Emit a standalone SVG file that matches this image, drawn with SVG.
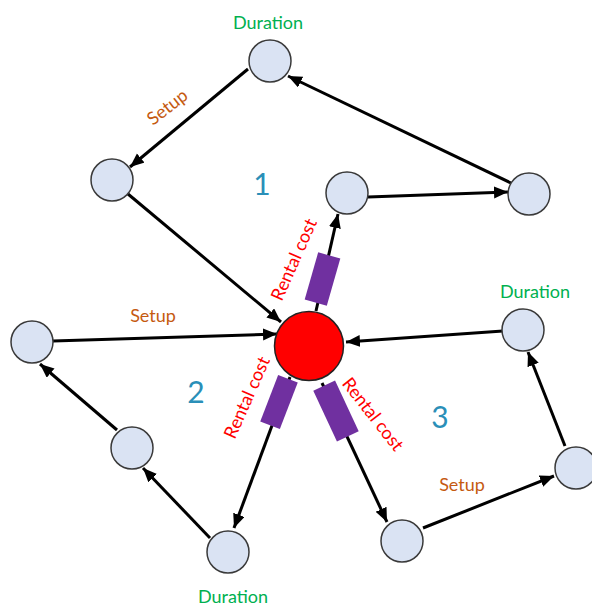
<svg xmlns="http://www.w3.org/2000/svg" width="592" height="608" viewBox="0 0 592 608">
<style>
.node{fill:#DAE3F3;stroke:#3a3a3a;stroke-width:1.5}
.hub{fill:#FF0000;stroke:#222;stroke-width:1.5}
.edge{stroke:#000;stroke-width:3;fill:none;marker-end:url(#ah)}
.cost{fill:#7030A0}
text{font-family:Lato,"Open Sans","Liberation Sans",sans-serif;font-size:18px}
.dur{fill:#00B050;text-anchor:middle}
.set{fill:#C55A11;text-anchor:middle}
.rc{fill:#FF0000;text-anchor:middle}
.num{fill:#2A8FB8;font-size:30px;text-anchor:middle}
</style>
<defs>
<marker id="ah" markerUnits="userSpaceOnUse" markerWidth="16" markerHeight="14" refX="14" refY="6" orient="auto">
<path d="M0,0 L14,6 L0,12 Z" fill="#000"/>
</marker>
</defs>
<g id="connectors">
<line class="edge" x1="248" y1="69" x2="130" y2="167"/>
<line class="edge" x1="511" y1="183" x2="288" y2="76"/>
<line class="edge" x1="368" y1="197" x2="508" y2="192"/>
<line class="edge" x1="128" y1="194" x2="281" y2="322"/>
<line class="edge" x1="316" y1="311" x2="338" y2="214"/>
<line class="edge" x1="53" y1="341" x2="277" y2="334"/>
<line class="edge" x1="117" y1="430" x2="40" y2="364"/>
<line class="edge" x1="210" y1="538" x2="143" y2="468"/>
<line class="edge" x1="290" y1="377" x2="234" y2="528"/>
<line class="edge" x1="322" y1="383" x2="387" y2="522"/>
<line class="edge" x1="423" y1="528" x2="554" y2="476"/>
<line class="edge" x1="565" y1="446" x2="528" y2="352"/>
<line class="edge" x1="503" y1="331" x2="346" y2="342"/>
<rect class="cost" x="-11.5" y="-24.5" width="23" height="49" transform="translate(322.5,279) rotate(16)"/>
<rect class="cost" x="-10.5" y="-25" width="21" height="50" transform="translate(279,402) rotate(21)"/>
<rect class="cost" x="-12" y="-28" width="24" height="56" transform="translate(336,411) rotate(-25)"/>
</g>
<g id="hub"><circle class="hub" cx="309" cy="346" r="34.5"/></g>
<g id="nA"><circle class="node" cx="270" cy="61" r="21"/></g>
<g id="nB"><circle class="node" cx="112" cy="180" r="21"/></g>
<g id="nC"><circle class="node" cx="529" cy="194" r="21"/></g>
<g id="nD"><circle class="node" cx="347" cy="193" r="21"/></g>
<g id="nE"><circle class="node" cx="32" cy="342" r="21"/></g>
<g id="nF"><circle class="node" cx="132" cy="448" r="21"/></g>
<g id="nG"><circle class="node" cx="228" cy="552" r="21"/></g>
<g id="nH"><circle class="node" cx="402" cy="541" r="21"/></g>
<g id="nI"><circle class="node" cx="576" cy="468" r="21"/></g>
<g id="nJ"><circle class="node" cx="523" cy="330" r="21"/></g>
<g id="labels">
<text class="dur" x="268" y="29">Duration</text>
<text class="dur" x="535" y="298">Duration</text>
<text class="dur" x="233" y="603">Duration</text>
<text class="set" transform="translate(168,108) rotate(-38)" y="5">Setup</text>
<text class="set" x="153" y="322">Setup</text>
<text class="set" x="462" y="491">Setup</text>
<text class="rc" transform="translate(295,260) rotate(-66)" y="5">Rental cost</text>
<text class="rc" transform="translate(248,398) rotate(-66)" y="5">Rental cost</text>
<text class="rc" transform="translate(372,415) rotate(52)" y="5">Rental cost</text>
<text class="num" x="262" y="195">1</text>
<text class="num" x="196" y="403">2</text>
<text class="num" x="440" y="428">3</text>
</g>
</svg>
